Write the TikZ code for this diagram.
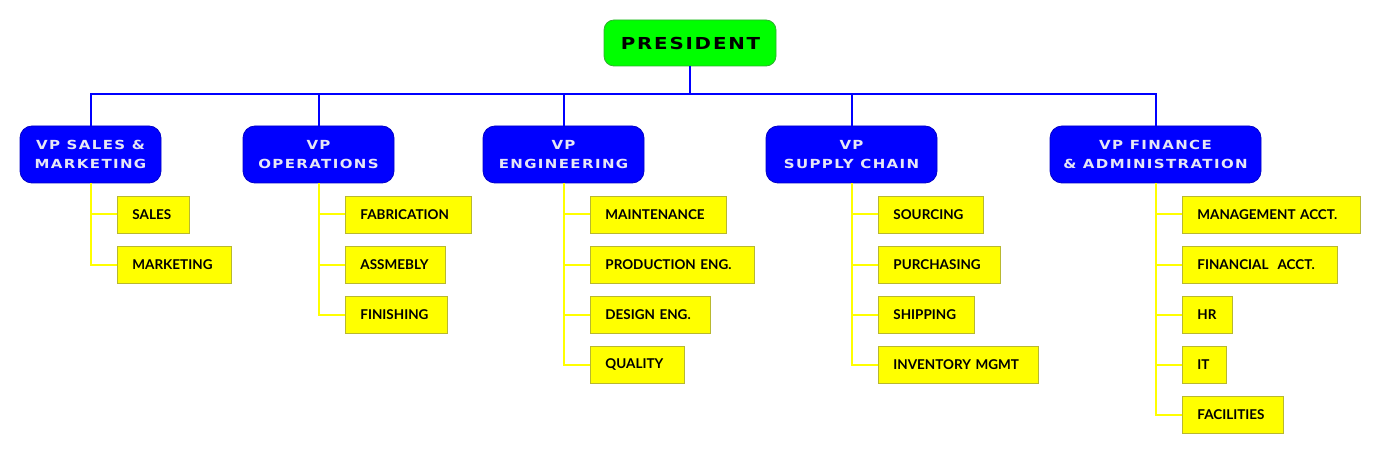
\documentclass[tikz,border=0pt]{standalone}
\usepackage{fontspec}
\usetikzlibrary{positioning}
\newfontfamily\boxfont{Lato}
\newfontfamily\capfont{DejaVu Sans}[FakeStretch=1.2, LetterSpace=11]
\definecolor{presfill}{HTML}{00FF00}
\definecolor{presline}{HTML}{30B030}
\definecolor{vpfill}{HTML}{0000FF}
\definecolor{vpline}{HTML}{0000C8}
\definecolor{vptext}{HTML}{E6E6F6}
\definecolor{unitfill}{HTML}{FFFF00}
\definecolor{unitline}{HTML}{B8B830}
\definecolor{busblue}{HTML}{0000FF}
\definecolor{twigyellow}{HTML}{FFFF00}
\tikzset{
  presblk/.style = {rectangle, rounded corners=10pt, draw=presline, fill=presfill,
                    line width=0.8pt, minimum width=172pt, minimum height=46pt, inner sep=0pt,
                    font=\capfont\bfseries\fontsize{16.5}{18}\selectfont},
  vpblk/.style   = {rectangle, rounded corners=12pt, draw=vpline, fill=vpfill, text=vptext,
                    line width=0.8pt, minimum height=57pt, inner sep=0pt, align=center,
                    font=\capfont\bfseries\fontsize{12.5}{19}\selectfont},
  unit/.style    = {rectangle, draw=unitline, fill=unitfill, line width=0.8pt, anchor=west,
                    minimum height=37pt, inner xsep=15pt, inner ysep=0pt, align=left,
                    text width=#1, font=\boxfont\bfseries\fontsize{13.5}{16}\selectfont},
  bus/.style     = {line width=2pt, draw=busblue},
  twig/.style    = {line width=2pt, draw=twigyellow},
}
\begin{document}
\begin{tikzpicture}[x=1pt, y=-1pt]
  \useasboundingbox (0,0) rectangle (1380,454);
  % top
  \node[presblk] (pres) at (690,43) {\hspace{1pt}PRESIDENT};
  \coordinate (busy) at (690,94);
  % vice presidents
  \node[vpblk, minimum width=141pt] (vs) at (90.5,154.5) {VP SALES \&\\MARKETING};
  \node[vpblk, minimum width=151pt] (vo) at (318.5,154.5) {VP\\OPERATIONS};
  \node[vpblk, minimum width=161pt] (ve) at (563.5,154.5) {VP\\ENGINEERING};
  \node[vpblk, minimum width=171pt] (vc) at (851.5,154.5) {VP\\SUPPLY CHAIN};
  \node[vpblk, minimum width=211pt] (vf) at (1155.5,154.5) {VP FINANCE\\\& ADMINISTRATION};
  % departments
  \node[unit=42pt]  (s1) at (117,214.5) {SALES};
  \node[unit=84pt]  (s2) at (117,264.5) {MARKETING};
  \node[unit=96pt]  (o1) at (345,214.5) {FABRICATION};
  \node[unit=70pt]  (o2) at (345,264.5) {ASSMEBLY};
  \node[unit=72pt]  (o3) at (345,314.5) {FINISHING};
  \node[unit=106pt] (e1) at (590,214.5) {MAINTENANCE};
  \node[unit=134pt] (e2) at (590,264.5) {PRODUCTION ENG.};
  \node[unit=90pt]  (e3) at (590,314.5) {DESIGN ENG.};
  \node[unit=64pt]  (e4) at (590,364.5) {QUALITY};
  \node[unit=75pt]  (c1) at (878,214.5) {SOURCING};
  \node[unit=92pt]  (c2) at (878,264.5) {PURCHASING};
  \node[unit=66pt]  (c3) at (878,314.5) {SHIPPING};
  \node[unit=130pt] (c4) at (878,364.5) {INVENTORY MGMT};
  \node[unit=148pt] (f1) at (1182,214.5) {MANAGEMENT ACCT.};
  \node[unit=125pt] (f2) at (1182,264.5) {FINANCIAL\ \ ACCT.};
  \node[unit=20pt]  (f3) at (1182,314.5) {HR};
  \node[unit=14pt]  (f4) at (1182,364.5) {IT};
  \node[unit=71pt]  (f5) at (1182,414.5) {FACILITIES};
  % connectors
  \draw[bus] (pres.south) -- (busy);
  \foreach \v in {vs,vo,ve,vc,vf}{\draw[bus] (\v.north) |- (busy);}
  \foreach \v/\d in {vs/s1,vs/s2,vo/o1,vo/o2,vo/o3,ve/e1,ve/e2,ve/e3,ve/e4,
                     vc/c1,vc/c2,vc/c3,vc/c4,vf/f1,vf/f2,vf/f3,vf/f4,vf/f5}{\draw[twig] (\v.south) |- (\d.west);}
\end{tikzpicture}
\end{document}
